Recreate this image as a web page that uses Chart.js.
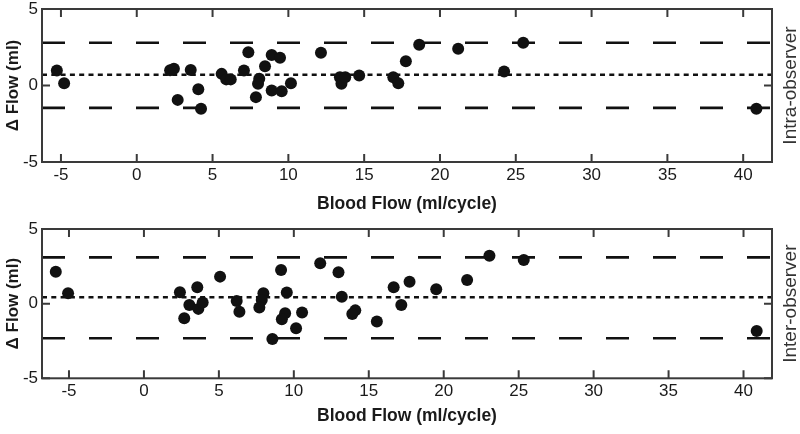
<!DOCTYPE html>
<html>
<head>
<meta charset="utf-8">
<script src="https://cdn.jsdelivr.net/npm/chart.js@4"></script>
<style>
  html, body { margin: 0; padding: 0; background: #fff; }
  #wrap { position: relative; width: 800px; height: 434px; }
  canvas { position: absolute; left: 0; }
  #intraChart { top: 0; }
  #interChart { top: 217px; }
</style>
</head>
<body>
<div id="wrap">
  <canvas id="intraChart" width="800" height="217"></canvas>
  <canvas id="interChart" width="800" height="217"></canvas>
</div>
<script>
// ============================
// Data
// ============================
const xTicks = [-5, 0, 5, 10, 15, 20, 25, 30, 35, 40];
const yTicks = [-5, 0, 5];

// intra-observer: mean blood flow vs difference
const intraFlow = [-5.27, -4.79, 2.2, 2.45, 3.56, 2.7, 4.06, 4.24, 5.6, 5.9, 6.2, 7.07, 7.36, 8.08, 8.0, 7.86, 8.46, 8.9, 9.45, 8.9, 9.56, 10.17, 12.15, 13.4, 13.5, 13.75, 14.67, 16.92, 17.25, 17.75, 18.63, 21.2, 24.23, 25.49, 40.87];
const intraDiff = [0.98, 0.15, 1.0, 1.1, 1.02, -0.94, -0.24, -1.52, 0.76, 0.4, 0.4, 0.98, 2.18, 0.44, 0.11, -0.76, 1.26, 2.0, 1.81, -0.33, -0.37, 0.15, 2.14, 0.54, 0.11, 0.54, 0.65, 0.54, 0.15, 1.59, 2.66, 2.4, 0.92, 2.79, -1.52];
const intraLimits = [2.79, 0.7, -1.46]; // upper LoA, mean, lower LoA
const intraRange = [-6.25, 41.9];

// inter-observer
const interFlow = [-5.88, -5.06, 2.4, 2.69, 3.03, 3.56, 3.63, 3.92, 5.08, 6.19, 6.37, 7.97, 7.86, 7.7, 8.57, 9.15, 9.53, 9.42, 9.2, 10.15, 10.55, 11.76, 12.98, 13.2, 14.1, 13.9, 15.54, 16.66, 17.17, 17.72, 19.5, 21.56, 23.05, 25.34, 40.88];
const interDiff = [2.14, 0.7, 0.76, -0.98, -0.09, 1.1, -0.35, 0.07, 1.81, 0.18, -0.54, 0.7, 0.25, -0.25, -2.36, 2.26, 0.74, -0.64, -1.05, -1.65, -0.6, 2.7, 2.1, 0.47, -0.45, -0.7, -1.2, 1.1, -0.09, 1.47, 0.96, 1.59, 3.21, 2.93, -1.83];
const interLimits = [3.1, 0.43, -2.32];
const interRange = [-6.8, 41.9];

// ============================
// Look
// ============================
const FONT = '"Liberation Sans", Arial, Helvetica, sans-serif';
const axisColor = "#3a3a3a";
const dotColor = "#111";
Chart.defaults.font.family = FONT;
Chart.defaults.color = "#1a1a1a";

// box + inward ticks on all four sides, and the side label
const framePlugin = {
  id: "frame",
  afterDraw(chart, args, opts) {
    const { ctx, chartArea: a, scales: { x, y } } = chart;
    ctx.save();
    ctx.strokeStyle = axisColor;
    ctx.lineWidth = 2;
    ctx.strokeRect(a.left, a.top, a.right - a.left, a.bottom - a.top);
    ctx.beginPath();
    x.ticks.forEach((t) => {
      const px = x.getPixelForValue(t.value);
      ctx.moveTo(px, a.bottom); ctx.lineTo(px, a.bottom - 8);
      ctx.moveTo(px, a.top); ctx.lineTo(px, a.top + 8);
    });
    y.ticks.forEach((t) => {
      const py = y.getPixelForValue(t.value);
      ctx.moveTo(a.left, py); ctx.lineTo(a.left + 8, py);
      ctx.moveTo(a.right, py); ctx.lineTo(a.right - 8, py);
    });
    ctx.stroke();

    ctx.translate(791, (a.top + a.bottom) / 2);
    ctx.rotate(-Math.PI / 2);
    ctx.font = "19px " + FONT;
    ctx.fillStyle = "#333";
    ctx.textAlign = "center";
    ctx.textBaseline = "middle";
    ctx.fillText(opts.label, 0, 0);
    ctx.restore();
  }
};

function limitLine(range, value, dash, width) {
  return {
    type: "line",
    data: [{ x: range[0], y: value }, { x: range[1], y: value }],
    borderColor: "#111",
    borderWidth: width,
    borderDash: dash,
    pointRadius: 0,
    fill: false
  };
}

// ============================
// Build one Bland-Altman panel
// ============================
function makePanel(canvasId, flow, diff, limits, range, label, layout) {
  const points = flow.map((v, i) => ({ x: v, y: diff[i] }));
  return new Chart(document.getElementById(canvasId), {
    type: "scatter",
    data: {
      datasets: [
        {
          data: points,
          backgroundColor: dotColor,
          borderWidth: 0,
          pointRadius: 6,
          pointHoverRadius: 6
        },
        limitLine(range, limits[0], [23, 24], 2.6),
        limitLine(range, limits[1], [5, 4.3], 2.4),
        limitLine(range, limits[2], [23, 24], 2.6)
      ]
    },
    options: {
      responsive: false,
      animation: false,
      events: [],
      layout: { padding: { top: layout.top, right: 28, left: 0, bottom: 0 } },
      plugins: {
        legend: { display: false },
        tooltip: { enabled: false },
        frame: { label: label }
      },
      scales: {
        x: {
          type: "linear",
          min: range[0],
          max: range[1],
          afterBuildTicks: (s) => { s.ticks = xTicks.map((v) => ({ value: v })); },
          afterFit: (s) => {
            s.height = layout.xHeight;
            s.paddingLeft = 0;
            s.paddingRight = 0;
          },
          grid: { display: false, drawTicks: false },
          border: { display: false },
          ticks: { font: { size: 17 }, padding: 3, maxRotation: 0 },
          title: {
            display: true,
            text: "Blood Flow (ml/cycle)",
            font: { size: 17.5, weight: "bold" },
            padding: { top: 0, bottom: layout.titlePad }
          }
        },
        y: {
          min: -5,
          max: 5,
          afterBuildTicks: (s) => { s.ticks = yTicks.map((v) => ({ value: v })); },
          afterFit: (s) => {
            s.width = 42;
            s.paddingTop = 0;
            s.paddingBottom = 0;
          },
          grid: { display: false, drawTicks: false },
          border: { display: false },
          ticks: { font: { size: 17 }, padding: 4 },
          title: {
            display: true,
            text: "Δ Flow (ml)",
            font: { size: 17, weight: "bold" },
            padding: { top: 3, bottom: 0 }
          }
        }
      }
    },
    plugins: [framePlugin]
  });
}

makePanel("intraChart", intraFlow, intraDiff, intraLimits, intraRange, "Intra-observer",
  { top: 9, xHeight: 55, titlePad: 2.5 });
makePanel("interChart", interFlow, interDiff, interLimits, interRange, "Inter-observer",
  { top: 12, xHeight: 55.7, titlePad: 7 });
</script>
</body>
</html>
